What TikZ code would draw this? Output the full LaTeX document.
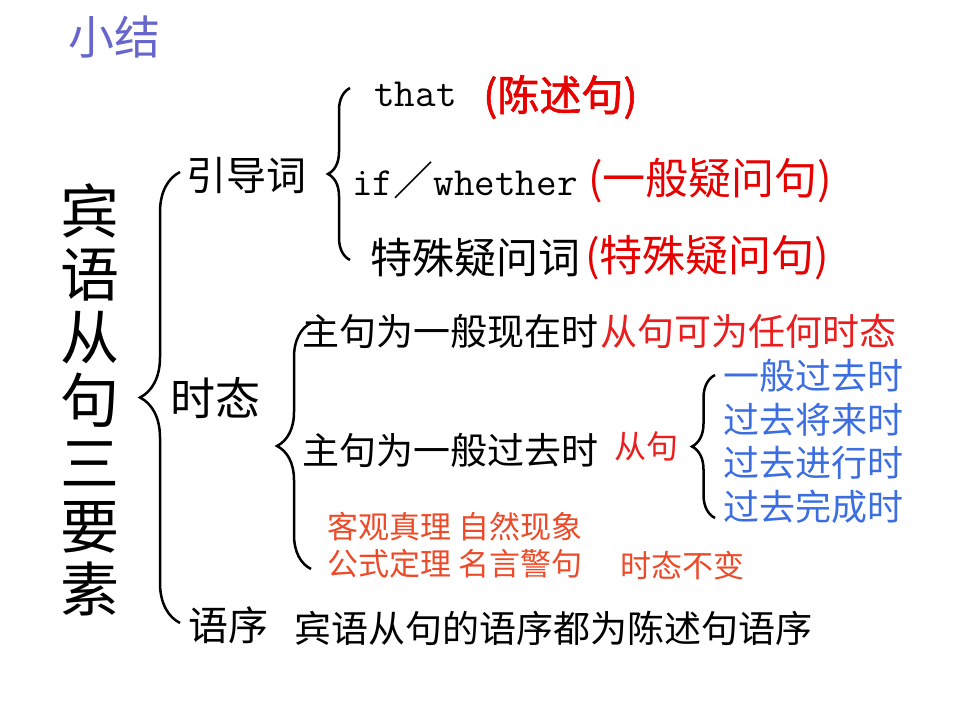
\documentclass[tikz,border=0pt]{standalone}
\usepackage{fontspec}
\setmainfont{Noto Sans CJK SC}
\newfontfamily\asciifont{Latin Modern Mono}
\newfontfamily\heavycjk[FakeBold=1.5]{Noto Sans CJK SC}
\usetikzlibrary{decorations.pathreplacing}
\definecolor{headpurple}{RGB}{102,102,204}
\definecolor{keyred}{RGB}{230,0,0}
\definecolor{tensered}{RGB}{234,30,30}
\definecolor{notered}{RGB}{236,74,40}
\definecolor{tenseblue}{RGB}{60,110,225}

\begin{document}
\begin{tikzpicture}[x=1pt,y=-1pt,
  txt/.style={anchor=west,inner sep=0pt,text=black},
  branch/.style={txt,font=\fontsize{40}{40}\selectfont},
  clause/.style={txt,font=\fontsize{37}{37}\selectfont},
  word/.style={txt,font=\fontsize{40}{40}\selectfont},
  kind/.style={txt,text=keyred,font=\fontsize{43}{43}\selectfont},
  past/.style={txt,text=tenseblue,font=\fontsize{36}{36}\selectfont},
  fact/.style={txt,text=notered,font=\fontsize{31}{31}\selectfont},
  curly/.style={decorate,decoration={brace,amplitude=#1},line width=2.5pt}
]
\useasboundingbox (0,0) rectangle (960,720);

% heading and title
\node[txt,text=headpurple,font=\fontsize{46}{46}\selectfont] (summary) at (68,37) {小结};
\node[inner sep=0pt,align=center,font=\fontsize{59}{63}\selectfont] (title) at (90,400)
  {宾\\语\\从\\句\\三\\要\\素};

% three branches
\node[branch] (guide) at (186,175) {引导词};
\node[branch,font=\fontsize{45}{45}\selectfont] (tense) at (170,398) {时态};
\node[branch] (order) at (188,625) {语序};

% introducers
\node[word] (that) at (374,94) {\asciifont that};
\node[kind,font=\heavycjk\fontsize{42}{42}\selectfont] (that-kind) at (483,97) {(陈述句)};
\node[word] (ifwh) at (352,180) {{\asciifont if}／{\asciifont whether}};
\node[kind] (ifwh-kind) at (588,181) {(一般疑问句)};
\node[branch,font=\fontsize{42}{42}\selectfont] (whword) at (370,258) {特殊疑问词};
\node[kind] (whword-kind) at (585,258) {(特殊疑问句)};

% tenses
\node[clause] (present) at (302,331) {主句为一般现在时};
\node[clause,text=tensered] (present-any) at (600,331) {从句可为任何时态};
\node[clause] (pastmain) at (302,450) {主句为一般过去时};
\node[txt,text=tensered,font=\fontsize{32}{32}\selectfont] (sub) at (614,446) {从句};
\node[past] (simple) at (723,376) {一般过去时};
\node[past] (future) at (723,420) {过去将来时};
\node[past] (progressive) at (723,463) {过去进行时};
\node[past] (perfect) at (723,507) {过去完成时};
\node[fact] (truth) at (327,527) {客观真理 自然现象};
\node[fact] (formula) at (327,564) {公式定理 名言警句};
\node[fact] (unchanged) at (620,566) {时态不变};

% word order
\node[clause] (statement) at (294,628) {宾语从句的语序都为陈述句语序};

% brace ends
\coordinate (main-top) at (180,172);
\coordinate (main-bot) at (180,623);
\coordinate (guide-top) at (350,88);
\coordinate (guide-bot) at (350,260);
\coordinate (tense-top) at (311,323);
\coordinate (tense-bot) at (311,569);
\coordinate (sub-top) at (715,375);
\coordinate (sub-bot) at (715,518);

\draw[curly=40] (main-bot) -- (main-top);
\draw[curly=22] (guide-bot) -- (guide-top);
\draw[curly=34] (tense-bot) -- (tense-top);
\draw[curly=23] (sub-bot) -- (sub-top);
\end{tikzpicture}
\end{document}
